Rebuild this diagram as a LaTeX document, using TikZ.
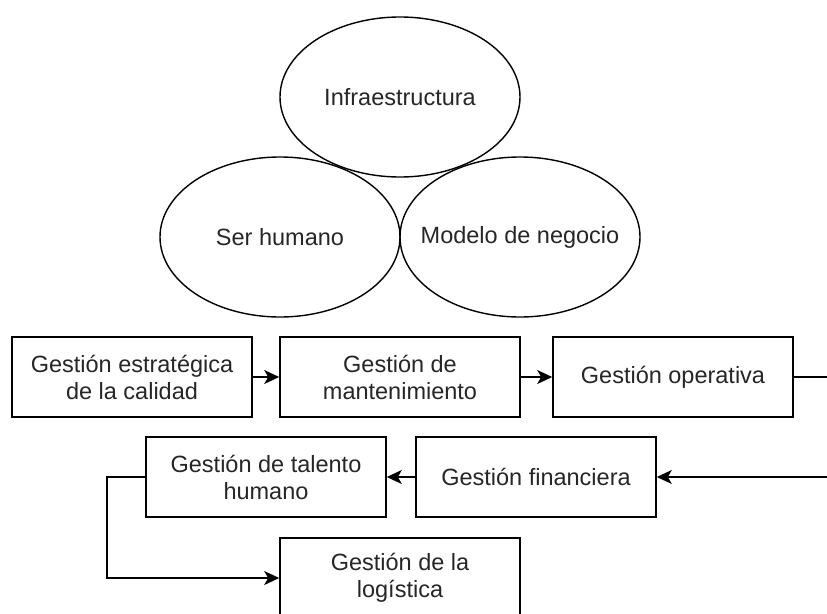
\documentclass[tikz,border=0pt]{standalone}
\usepackage{fontspec}
\setmainfont{Liberation Sans}
\usetikzlibrary{shapes.geometric}
\usetikzlibrary{arrows.meta}

\begin{document}
\begin{tikzpicture}[
x=1pt, y=-1pt,
label text/.style={font=\fontsize{23.5pt}{27pt}\selectfont, align=center, text=black!85},
circlebox/.style={ellipse, draw, line width=1.4pt, minimum width=240pt, minimum height=160pt, inner sep=0pt, inner xsep=-45pt, label text},
stepbox/.style={rectangle, draw, line width=1.6pt, minimum width=240pt, minimum height=80pt, inner sep=0pt, label text},
flow/.style={-{Stealth[length=15pt, width=14pt, inset=4pt]}, line width=1.5pt}
]
\useasboundingbox (0,0) rectangle (827,613);

\def\rowA{377}
\def\rowB{477}
\def\rowC{578}

% the three circles
\node[circlebox] (infra) at (400, 97) {Infraestructura};
\node[circlebox] (ser) at (280, 237) {Ser humano};
\node[circlebox] (modelo) at (520, 237) {Modelo de negocio};

% process boxes
\node[stepbox] (calidad) at (132, \rowA) {Gestión estratégica\\de la calidad};
\node[stepbox] (mant) at (400, \rowA) {Gestión de\\mantenimiento};
\node[stepbox] (oper) at (673, \rowA) {Gestión operativa};
\node[stepbox] (finan) at (536, \rowB) {Gestión financiera};
\node[stepbox] (talento) at (266, \rowB) {Gestión de talento\\humano};
\node[stepbox] (logis) at (400, \rowC) {Gestión de la\\logística};

\coordinate (turnR) at (850, \rowA);
\coordinate (turnL) at (107, \rowB);

\draw[flow] (calidad) -- (mant);
\draw[flow] (mant) -- (oper);
\draw[flow] (oper.east) -- (turnR) |- (finan.east);
\draw[flow] (finan) -- (talento);
\draw[flow] (talento.west) -- (turnL) |- (logis.west);
\end{tikzpicture}
\end{document}
